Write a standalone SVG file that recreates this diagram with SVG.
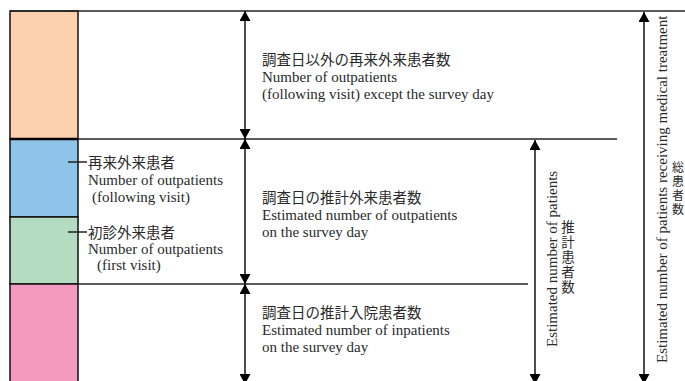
<svg xmlns="http://www.w3.org/2000/svg" width="685" height="381" viewBox="0 0 685 381">
<style>
.ln{stroke:#222;stroke-width:1.5;fill:none}
.ar{stroke:#111;stroke-width:1.5;fill:none;marker-start:url(#h);marker-end:url(#h)}
.en{font-family:"Liberation Serif","Times New Roman",serif;font-size:15px;fill:#2a2a2a}
.ja{font-family:"Noto Sans CJK JP","Noto Sans CJK SC",sans-serif;font-size:14.5px;fill:#2a2a2a}
.vt{writing-mode:vertical-rl}
.bar{stroke:#111;stroke-width:1.5}
</style>
<defs>
<marker id="h" viewBox="0 0 10 11" refX="10" refY="5.5" markerWidth="10" markerHeight="11" markerUnits="userSpaceOnUse" orient="auto-start-reverse">
<path d="M0,0 L10,5.5 L0,11 Z" fill="#000"/>
</marker>
</defs>
<g id="bar">
<rect id="seg-other" class="bar" x="10" y="11" width="68" height="128" fill="#FDD0AE"/>
<rect id="seg-revisit" class="bar" x="10" y="139" width="68" height="78" fill="#8FC4E9"/>
<rect id="seg-first" class="bar" x="10" y="217" width="68" height="67" fill="#B4DCC1"/>
<rect id="seg-inpatient" class="bar" x="10" y="284" width="68" height="100" fill="#F49AC1"/>
<line x1="10" y1="139" x2="78" y2="139" stroke="#000" stroke-width="2.5"/>
</g>
<g id="connectors">
<line class="ln" x1="10" y1="11" x2="685" y2="11"/>
<line class="ln" x1="78" y1="139" x2="617" y2="139"/>
<line class="ln" x1="78" y1="284" x2="528" y2="284"/>
<line class="ln" x1="68" y1="162" x2="87" y2="162"/>
<line class="ln" x1="68" y1="232" x2="87" y2="232"/>
<line class="ar" x1="245" y1="11" x2="245" y2="139"/>
<line class="ar" x1="245" y1="139" x2="245" y2="284"/>
<line class="ar" x1="245" y1="284" x2="245" y2="384"/>
<line class="ar" x1="535" y1="140" x2="535" y2="384"/>
<line class="ar" x1="644" y1="12" x2="644" y2="384"/>
</g>
<g id="label-revisit">
<text class="ja" x="88" y="168">再来外来患者</text>
<text class="en" x="88" y="185">Number of outpatients</text>
<text class="en" x="92" y="202">(following visit)</text>
</g>
<g id="label-first">
<text class="ja" x="88" y="238">初診外来患者</text>
<text class="en" x="88" y="254">Number of outpatients</text>
<text class="en" x="97" y="270">(first visit)</text>
</g>
<g id="label-other">
<text class="ja" x="262" y="65">調査日以外の再来外来患者数</text>
<text class="en" x="262" y="82">Number of outpatients</text>
<text class="en" x="262" y="99">(following visit) except the survey day</text>
</g>
<g id="label-outpatient">
<text class="ja" x="262" y="203">調査日の推計外来患者数</text>
<text class="en" x="262" y="220">Estimated number of outpatients</text>
<text class="en" x="262" y="237">on the survey day</text>
</g>
<g id="label-inpatient">
<text class="ja" x="262" y="318">調査日の推計入院患者数</text>
<text class="en" x="262" y="335">Estimated number of inpatients</text>
<text class="en" x="262" y="352">on the survey day</text>
</g>
<g id="label-estimated">
<text class="en" transform="translate(557,347) rotate(-90)">Estimated number of patients</text>
<text class="ja vt" x="568" y="220" style="font-size:13.5px;letter-spacing:1.5px">推計患者数</text>
</g>
<g id="label-total">
<text class="en" transform="translate(667,363) rotate(-90)">Estimated number of patients receiving medical treatment</text>
<text class="ja vt" x="678" y="161" style="font-size:12px;letter-spacing:2px">総患者数</text>
</g>
</svg>
